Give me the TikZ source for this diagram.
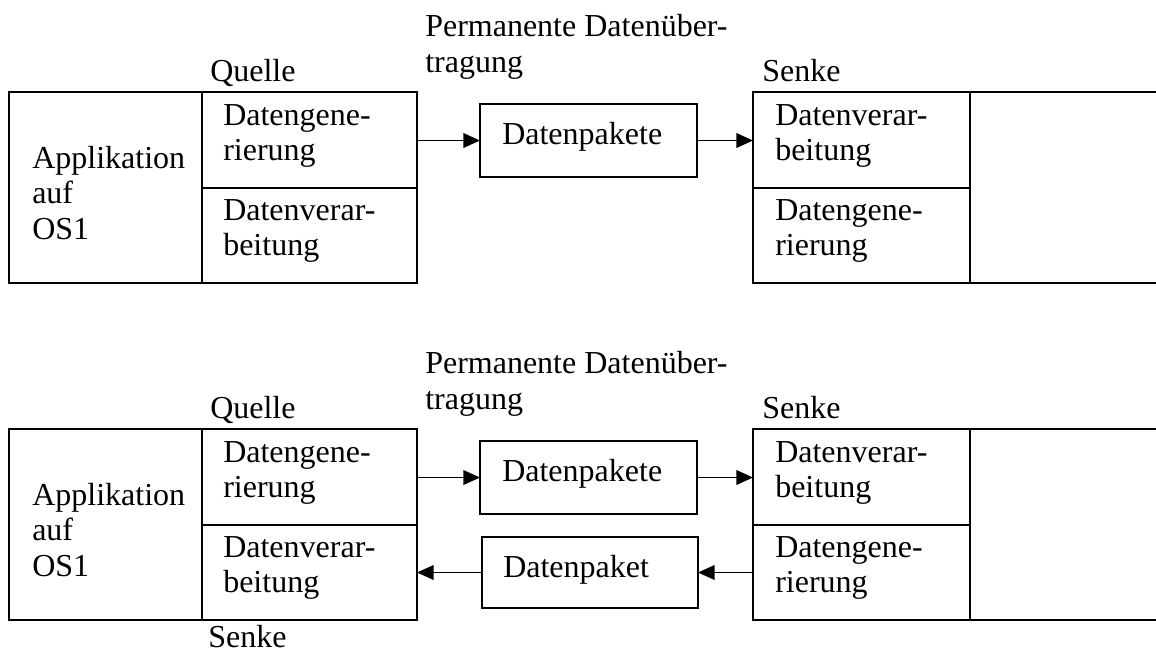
\documentclass[tikz,border=0pt]{standalone}
\usepackage{fontspec}
\setmainfont{Liberation Serif}
\usetikzlibrary{fit,arrows.meta}
\begin{document}
\begin{tikzpicture}[x=0.75pt,y=-0.75pt,
  cell/.style={draw, line width=1.4pt, inner sep=0pt, outer sep=0pt},
  txt/.style={anchor=base west, inner sep=0pt, font=\fontsize{24pt}{27.6pt}\selectfont},
  arr/.style={line width=1.2pt, -{Triangle[length=12.5pt,width=11pt]}},
  frameline/.style={line width=1.4pt}]
\useasboundingbox (0,0) rectangle (1156,654);

% ---------- top diagram ----------
\node[cell, fit={(9,92) (202,283)}] (appA) {};
\node[cell, fit={(202,92) (417,188)}] (qgenA) {};
\node[cell, fit={(202,188) (417,283)}] (qprocA) {};
\node[cell, fit={(480,104) (697,177)}] (pktA) {};
\node[cell, fit={(753,92) (970,188)}] (sprocA) {};
\node[cell, fit={(753,188) (970,283)}] (sgenA) {};
\coordinate (rtA) at (1160,92);
\coordinate (rbA) at (1160,283);
\draw[frameline] (sprocA.north east) -- (rtA);
\draw[frameline] (sgenA.south east) -- (rbA);

\node[txt] (quelleA) at (210,81) {Quelle};
\node[txt] (senkeA) at (762,81) {Senke};
\node[txt] (permA1) at (425,36.7) {Permanente Datenüber-};
\node[txt] (permA2) at (425,72) {tragung};
\node[txt] (appA1) at (32,168) {Applikation};
\node[txt] (appA2) at (32,203.5) {auf};
\node[txt] (appA3) at (32,239) {OS1};
\node[txt] (qgenA1) at (223,125) {Datengene-};
\node[txt] (qgenA2) at (223,160.5) {rierung};
\node[txt] (qprocA1) at (223,220) {Datenverar-};
\node[txt] (qprocA2) at (223,255.5) {beitung};
\node[txt] (pktAt) at (502,144) {Datenpakete};
\node[txt] (sprocA1) at (775,125) {Datenverar-};
\node[txt] (sprocA2) at (775,160.5) {beitung};
\node[txt] (sgenA1) at (775,220) {Datengene-};
\node[txt] (sgenA2) at (775,255.5) {rierung};

\draw[arr] (pktA.west -| qgenA.east) -- (pktA.west);
\draw[arr] (pktA.east) -- (pktA.east -| sprocA.west);

% ---------- bottom diagram ----------
\node[cell, fit={(9,429) (202,620)}] (appB) {};
\node[cell, fit={(202,429) (417,525)}] (qgenB) {};
\node[cell, fit={(202,525) (417,620)}] (qprocB) {};
\node[cell, fit={(480,441) (697,514)}] (pktB) {};
\node[cell, fit={(482,537) (698,608)}] (pktBr) {};
\node[cell, fit={(753,429) (970,525)}] (sprocB) {};
\node[cell, fit={(753,525) (970,620)}] (sgenB) {};
\coordinate (rtB) at (1160,429);
\coordinate (rbB) at (1160,620);
\draw[frameline] (sprocB.north east) -- (rtB);
\draw[frameline] (sgenB.south east) -- (rbB);

\node[txt] (quelleB) at (210,418) {Quelle};
\node[txt] (senkeB) at (762,418) {Senke};
\node[txt] (senkeB2) at (208,647) {Senke};
\node[txt] (permB1) at (425,373.7) {Permanente Datenüber-};
\node[txt] (permB2) at (425,409) {tragung};
\node[txt] (appB1) at (32,505) {Applikation};
\node[txt] (appB2) at (32,540.5) {auf};
\node[txt] (appB3) at (32,576) {OS1};
\node[txt] (qgenB1) at (223,462) {Datengene-};
\node[txt] (qgenB2) at (223,497.5) {rierung};
\node[txt] (qprocB1) at (223,557) {Datenverar-};
\node[txt] (qprocB2) at (223,592.5) {beitung};
\node[txt] (pktBt) at (502,481) {Datenpakete};
\node[txt] (pktBrt) at (503,577) {Datenpaket};
\node[txt] (sprocB1) at (775,462) {Datenverar-};
\node[txt] (sprocB2) at (775,497.5) {beitung};
\node[txt] (sgenB1) at (775,557) {Datengene-};
\node[txt] (sgenB2) at (775,592.5) {rierung};

\draw[arr] (pktB.west -| qgenB.east) -- (pktB.west);
\draw[arr] (pktB.east) -- (pktB.east -| sprocB.west);
\draw[arr] (pktBr.east -| sgenB.west) -- (pktBr.east);
\draw[arr] (pktBr.west) -- (pktBr.west -| qprocB.east);
\end{tikzpicture}
\end{document}
